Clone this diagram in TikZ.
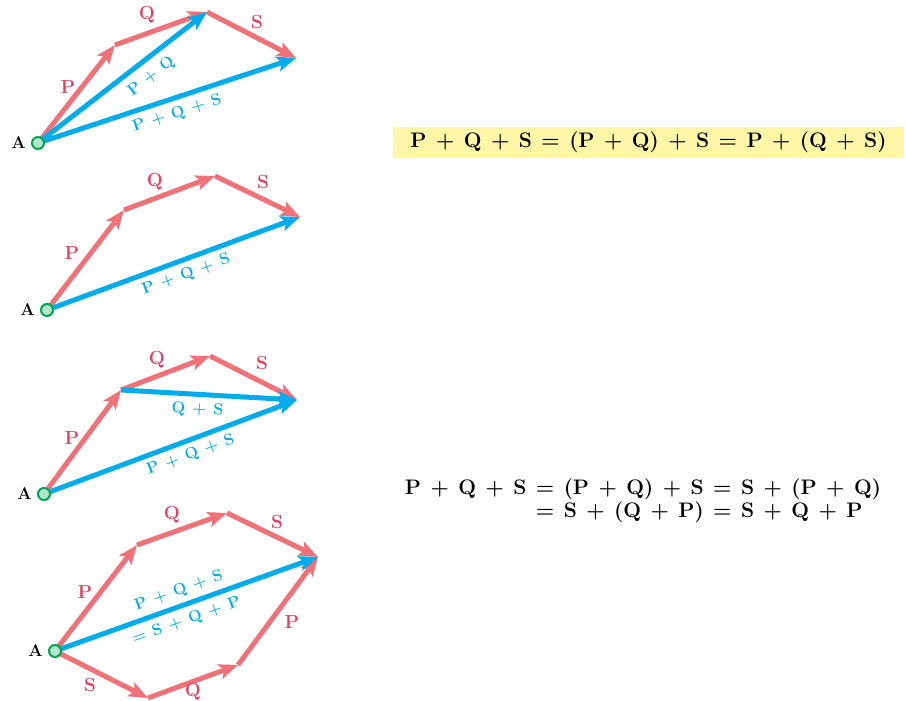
\documentclass[tikz,border=0pt]{standalone}
\usepackage{fontspec}
\usetikzlibrary{arrows.meta,positioning}
\definecolor{Salmon}{RGB}{240,114,120}
\definecolor{Sky}{RGB}{0,172,236}
\definecolor{Rose}{RGB}{228,64,98}
\definecolor{Leaf}{RGB}{0,165,80}
\definecolor{Lemon}{RGB}{255,246,168}
\newcommand{\pl}{\hspace{0.45em}+\hspace{0.45em}}
\newcommand{\eqs}{\hspace{0.45em}=\hspace{0.45em}}
\tikzset{
  vec/.style={line width=5pt,-{Stealth[length=19pt,width=15pt,inset=4pt]}},
  redvec/.style={vec,Salmon},
  bluevec/.style={vec,Sky},
  vlabel/.style={text=Rose,font=\fontsize{19}{19}\selectfont\bfseries,inner sep=1pt},
  sumlabel/.style={text=Sky,font=\fontsize{16}{16}\selectfont\bfseries,inner sep=1pt,sloped},
  tail/.style={circle,draw=Leaf,fill=Leaf!30,line width=2pt,minimum size=12pt,inner sep=0pt},
  taillabel/.style={font=\fontsize{17}{17}\selectfont\bfseries,inner sep=1pt},
  law/.style={font=\fontsize{21}{23}\selectfont\bfseries,inner sep=0pt}
}
\begin{document}
\begin{tikzpicture}[x=1pt,y=1pt]
  \useasboundingbox (0,0) rectangle (906,701);
  % (P+Q)+S
  \coordinate (A1) at (38,558);
  \coordinate (P1) at (115,656);
  \coordinate (Q1) at (207,689);
  \coordinate (S1) at (296,643);
  \draw[redvec] (A1) -- (P1);
  \draw[redvec] (P1) -- (Q1);
  \draw[redvec] (Q1) -- (S1);
  \draw[bluevec] (A1) -- (Q1) node[sumlabel,pos=.61,below=6pt] (PQ1) {P\pl Q};
  \draw[bluevec] (A1) -- (S1) node[sumlabel,pos=.52,below=5pt] (PQS1) {P\pl Q\pl S};
  \node[tail] (A1dot) at (A1) {};
  \node[taillabel,left=4pt of A1dot] (A1txt) {A};
  \node[vlabel] (P1txt) at (68,614) {P};
  \node[vlabel] (Q1txt) at (147,686) {Q};
  \node[vlabel] (S1txt) at (257,679) {S};
  % P+Q+S
  \coordinate (A2) at (47,391);
  \coordinate (P2) at (124,491);
  \coordinate (Q2) at (215,525);
  \coordinate (S2) at (300,484);
  \draw[redvec] (A2) -- (P2);
  \draw[redvec] (P2) -- (Q2);
  \draw[redvec] (Q2) -- (S2);
  \draw[bluevec] (A2) -- (S2) node[sumlabel,pos=.53,below=4pt] (PQS2) {P\pl Q\pl S};
  \node[tail] (A2dot) at (A2) {};
  \node[taillabel,left=4pt of A2dot] (A2txt) {A};
  \node[vlabel] (P2txt) at (72,448) {P};
  \node[vlabel] (Q2txt) at (155,519) {Q};
  \node[vlabel] (S2txt) at (263,519) {S};
  % P+(Q+S)
  \coordinate (A3) at (44,207);
  \coordinate (P3) at (121,311);
  \coordinate (Q3) at (210,345);
  \coordinate (S3) at (297,301);
  \draw[redvec] (A3) -- (P3);
  \draw[redvec] (P3) -- (Q3);
  \draw[redvec] (Q3) -- (S3);
  \draw[bluevec] (P3) -- (S3) node[sumlabel,pos=.44,below=5pt] (QS3) {Q\pl S};
  \draw[bluevec] (A3) -- (S3) node[sumlabel,pos=.56,below=4pt] (PQS3) {P\pl Q\pl S};
  \node[tail] (A3dot) at (A3) {};
  \node[taillabel,left=4pt of A3dot] (A3txt) {A};
  \node[vlabel] (P3txt) at (72,263) {P};
  \node[vlabel] (Q3txt) at (157,341) {Q};
  \node[vlabel] (S3txt) at (262,338) {S};
  % both orders
  \coordinate (A4) at (55,50);
  \coordinate (P4) at (137,156);
  \coordinate (Q4) at (227,188);
  \coordinate (S4) at (318,144);
  \coordinate (S4b) at (148,3);
  \coordinate (Q4b) at (238,36);
  \draw[redvec] (A4) -- (P4);
  \draw[redvec] (P4) -- (Q4);
  \draw[redvec] (Q4) -- (S4);
  \draw[redvec] (A4) -- (S4b);
  \draw[redvec] (S4b) -- (Q4b);
  \draw[redvec] (Q4b) -- (S4);
  \draw[bluevec] (A4) -- (S4)
    node[sumlabel,pos=.49,above=4pt] (PQS4) {P\pl Q\pl S}
    node[sumlabel,pos=.48,below=5pt] (SQP4) {=\hspace{0.45em}S\pl Q\pl P};
  \node[tail] (A4dot) at (A4) {};
  \node[taillabel,left=4pt of A4dot] (A4txt) {A};
  \node[vlabel] (P4txt) at (85,109) {P};
  \node[vlabel] (Q4txt) at (172,186) {Q};
  \node[vlabel] (S4txt) at (277,179) {S};
  \node[vlabel] (S4btxt) at (90,16) {S};
  \node[vlabel] (Q4btxt) at (193,9) {Q};
  \node[vlabel] (P4btxt) at (292,79) {P};
  % the laws
  \node[law,fill=Lemon,minimum width=511pt,minimum height=31pt] (law1) at (648.5,558.5)
    {P\pl Q\pl S\eqs(P\pl Q)\pl S\eqs P\pl (Q\pl S)};
  \node[law] (law2) at (643,200)
    {\begin{tabular}{@{}r@{}l@{}}
      P\pl Q\pl S & \eqs(P\pl Q)\pl S\eqs S\pl (P\pl Q)\\
      & \eqs S\pl (Q\pl P)\eqs S\pl Q\pl P
    \end{tabular}};
\end{tikzpicture}
\end{document}
